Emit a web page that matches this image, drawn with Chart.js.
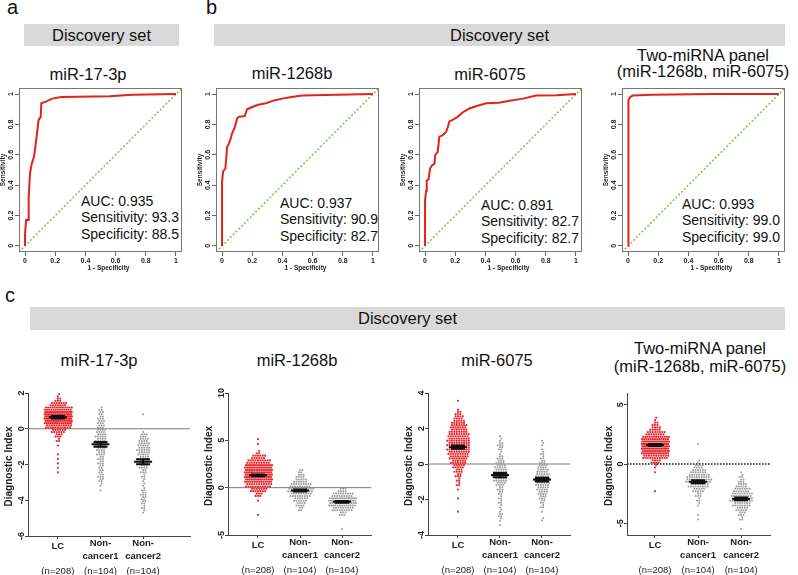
<!DOCTYPE html>
<html>
<head>
<meta charset="utf-8">
<script src="https://cdn.jsdelivr.net/npm/chart.js@4.4.0/dist/chart.umd.min.js"></script>
<style>
body { margin: 0; background: #fff; font-family: "Liberation Sans", Arial, sans-serif; color: #111; }
#fig { position: relative; width: 798px; height: 575px; overflow: hidden; }
.abs { position: absolute; white-space: nowrap; }
.lbl { font-size: 20px; line-height: 20px; }
.band { background: #d9d9d9; font-size: 16.5px; text-align: center; }
.ttl { font-size: 16.5px; line-height: 20px; transform: translateX(-50%); }
.auc { font-size: 14px; line-height: 16px; }
canvas { position: absolute; }
</style>
</head>
<body>
<div id="fig">
  <div class="abs lbl" style="left:7px;top:-3px">a</div>
  <div class="abs lbl" style="left:206px;top:-3px">b</div>
  <div class="abs lbl" style="left:5px;top:285px">c</div>

  <div class="abs band" style="left:24px;top:24px;width:155px;height:22px;line-height:22px">Discovery set</div>
  <div class="abs band" style="left:214px;top:24px;width:571px;height:22px;line-height:22px">Discovery set</div>
  <div class="abs band" style="left:30px;top:307px;width:755px;height:23px;line-height:23px">Discovery set</div>

  <div class="abs ttl" style="left:88px;top:64px">miR-17-3p</div>
  <div class="abs ttl" style="left:292px;top:63px">miR-1268b</div>
  <div class="abs ttl" style="left:490px;top:64px">miR-6075</div>
  <div class="abs ttl" style="left:703px;top:45px">Two-miRNA panel</div>
  <div class="abs ttl" style="left:703px;top:61px">(miR-1268b, miR-6075)</div>

  <div class="abs ttl" style="left:99px;top:350px">miR-17-3p</div>
  <div class="abs ttl" style="left:297px;top:350px">miR-1268b</div>
  <div class="abs ttl" style="left:497px;top:350px">miR-6075</div>
  <div class="abs ttl" style="left:700px;top:338px">Two-miRNA panel</div>
  <div class="abs ttl" style="left:700px;top:356px">(miR-1268b, miR-6075)</div>

  <div id="aucBox"></div>

  <canvas id="roc1" width="190" height="200" style="left:0px;top:80px"></canvas>
  <canvas id="roc2" width="190" height="200" style="left:197px;top:80px"></canvas>
  <canvas id="roc3" width="190" height="200" style="left:400px;top:80px"></canvas>
  <canvas id="roc4" width="190" height="200" style="left:603px;top:80px"></canvas>

  <canvas id="dot1" width="200" height="190" style="left:0px;top:385px"></canvas>
  <canvas id="dot2" width="200" height="190" style="left:200px;top:385px"></canvas>
  <canvas id="dot3" width="200" height="190" style="left:400px;top:385px"></canvas>
  <canvas id="dot4" width="200" height="190" style="left:600px;top:385px"></canvas>
</div>

<script>
var F = '"Liberation Sans", Arial, sans-serif';

var rocTicks = [0, 0.2, 0.4, 0.6, 0.8, 1];

var roc17Fpr = [0, 0, 0.007, 0.02, 0.024, 0.033, 0.044, 0.06, 0.068, 0.079, 0.09, 0.104, 0.108, 0.139, 0.18, 0.24, 0.56, 0.71, 1];
var roc17Tpr = [0, 0.08, 0.17, 0.17, 0.32, 0.48, 0.54, 0.59, 0.65, 0.74, 0.83, 0.85, 0.94, 0.95, 0.97, 0.98, 0.985, 0.995, 1];

var roc1268Fpr = [0, 0, 0.007, 0.022, 0.029, 0.033, 0.044, 0.055, 0.066, 0.084, 0.1, 0.11, 0.15, 0.166, 0.2, 0.24, 0.29, 0.35, 0.4, 0.46, 0.53, 1];
var roc1268Tpr = [0, 0.42, 0.49, 0.51, 0.59, 0.65, 0.67, 0.70, 0.74, 0.78, 0.84, 0.85, 0.855, 0.9, 0.915, 0.93, 0.94, 0.96, 0.97, 0.98, 0.99, 1];

var roc6075Fpr = [0, 0, 0.007, 0.011, 0.024, 0.033, 0.046, 0.062, 0.068, 0.084, 0.095, 0.117, 0.139, 0.15, 0.161, 0.183, 0.216, 0.25, 0.294, 0.338, 0.404, 0.49, 0.56, 0.65, 0.735, 0.87, 1];
var roc6075Tpr = [0, 0.30, 0.36, 0.43, 0.44, 0.51, 0.53, 0.54, 0.60, 0.62, 0.72, 0.73, 0.75, 0.78, 0.82, 0.83, 0.85, 0.88, 0.905, 0.92, 0.94, 0.943, 0.956, 0.97, 0.99, 0.993, 1];

var rocPanelFpr = [0, 0, 0.004, 0.004, 0.013, 0.03, 0.16, 0.57, 1];
var rocPanelTpr = [0, 0.28, 0.28, 0.96, 0.98, 0.99, 0.995, 1, 1];

var aucLines = [
  ['AUC: 0.935', 'Sensitivity: 93.3', 'Specificity: 88.5'],
  ['AUC: 0.937', 'Sensitivity: 90.9', 'Specificity: 82.7'],
  ['AUC: 0.891', 'Sensitivity: 82.7', 'Specificity: 82.7'],
  ['AUC: 0.993', 'Sensitivity: 99.0', 'Specificity: 99.0']
];

// ---- dot plots (panel c): counts per y-bin, per group ----
var groupNames = [['LC'], ['Non-', 'cancer1'], ['Non-', 'cancer2']];
var groupN = ['(n=208)', '(n=104)', '(n=104)'];

// miR-17-3p, bins of 0.25
var c17Start = [-2.5, -3.5, -4.75];
var c17LC = [1, 1, 1, 1, 1, 0, 1, 3, 6, 12, 22, 30, 40, 42, 26, 14, 5, 2];
var c17NC1 = [1, 2, 4, 5, 4, 4, 5, 5, 7, 8, 9, 9, 9, 8, 6, 6, 5, 4, 3];
var c17NC2 = [2, 3, 4, 4, 5, 3, 2, 2, 3, 5, 7, 8, 9, 10, 11, 10, 8, 6, 1, 0, 0, 0, 1];
var c17Mean = [0.65, -0.87, -1.84];
var c17Sem = [0.07, 0.13, 0.14];
var c17Ticks = [-6, -4, -2, 0, 2];

// miR-1268b, bins of 0.5
var c1268Start = [-3, -2.5, -4.5];
var c1268LC = [1, 0, 0, 1, 6, 14, 22, 30, 36, 33, 28, 20, 12, 3, 0, 1, 1];
var c1268NC1 = [4, 8, 12, 18, 22, 18, 11, 7, 4];
var c1268NC2 = [1, 0, 0, 6, 18, 26, 28, 18, 7];
var c1268Mean = [1.3, -0.3, -1.5];
var c1268Sem = [0.1, 0.11, 0.1];
var c1268Ticks = [-5, 0, 5, 10];

// miR-6075, bins of 0.25
var c6075Start = [-2.75, -3.5, -3.25];
var c6075LC = [1, 0, 0, 1, 0, 1, 3, 3, 5, 7, 10, 13, 16, 18, 19, 19, 19, 18, 15, 14, 11, 8, 5, 1, 0, 1];
var c6075NC1 = [1, 2, 4, 2, 2, 3, 3, 4, 5, 8, 11, 13, 11, 9, 7, 5, 2, 4, 5, 2, 1];
var c6075NC2 = [2, 0, 1, 3, 4, 6, 8, 10, 12, 13, 12, 10, 8, 5, 3, 3, 1, 2, 1];
var c6075Mean = [0.95, -0.62, -0.88];
var c6075Sem = [0.09, 0.12, 0.11];
var c6075Ticks = [-4, -2, 0, 2, 4];

// two-miRNA panel, bins of 0.4
var cPanStart = [-2.4, -4.8, -6.0];
var cPanLC = [1, 0, 0, 0, 1, 2, 8, 22, 34, 42, 40, 26, 16, 9, 5, 2];
var cPanNC1 = [1, 1, 0, 2, 3, 5, 10, 17, 22, 19, 13, 8, 2, 0, 0, 0, 1];
var cPanNC2 = [0, 1, 0, 3, 6, 10, 15, 19, 18, 14, 9, 5, 3, 1];
var cPanMean = [1.6, -1.5, -2.95];
var cPanSem = [0.08, 0.12, 0.12];
var cPanTicks = [-5, 0, 5];

// AUC text blocks (left, line centres)
var aucPos = [[81, 201], [280, 203], [481, 205], [682, 204]];
aucLines.forEach(function (lines, k) {
  lines.forEach(function (t, j) {
    var d = document.createElement('div');
    d.className = 'abs auc';
    d.style.left = aucPos[k][0] + 'px';
    d.style.top = (aucPos[k][1] - 8 + j * 16.3) + 'px';
    d.textContent = t;
    document.getElementById('aucBox').appendChild(d);
  });
});

// text drawn around the plot areas (rotated y labels etc.)
var extras = {
  id: 'extras',
  afterDraw: function (chart, args, o) {
    var ctx = chart.ctx, a = chart.chartArea, ys = chart.scales.y, xs = chart.scales.x;
    ctx.save();
    ctx.fillStyle = '#222';
    if (o.box) {
      ctx.strokeStyle = '#777';
      ctx.lineWidth = 1;
      ctx.strokeRect(a.left + 0.5, a.top + 0.5, a.right - a.left - 1, a.bottom - a.top - 1);
    }
    ctx.textAlign = 'center';
    ctx.textBaseline = 'middle';
    ctx.font = o.yFont;
    ys.ticks.forEach(function (t) {
      ctx.save();
      ctx.translate(a.left - o.yOff, ys.getPixelForValue(t.value));
      ctx.rotate(-Math.PI / 2);
      ctx.fillText(String(t.value), 0, 0);
      ctx.restore();
    });
    ctx.font = o.yTitleFont;
    ctx.save();
    ctx.translate(o.yTitleX, (a.top + a.bottom) / 2 + (o.yTitleDy || 0));
    ctx.rotate(-Math.PI / 2);
    ctx.fillText(o.yTitle, 0, 0);
    ctx.restore();
    if (o.xTitle) {
      ctx.font = o.xTitleFont;
      ctx.fillText(o.xTitle, (a.left + a.right) / 2 + 8, a.bottom + 16);
    }
    if (o.names) {
      o.names.forEach(function (lines, i) {
        var px = xs.getPixelForValue(i);
        ctx.font = 'bold 9.5px ' + F;
        if (lines.length === 1) {
          ctx.fillText(lines[0], px, a.bottom + 10);
        } else {
          ctx.fillText(lines[0], px, a.bottom + 7);
          ctx.fillText(lines[1], px, a.bottom + 20);
        }
        ctx.font = '9.5px ' + F;
        ctx.fillText(o.n[i], px, a.bottom + 35);
      });
    }
    ctx.restore();
  }
};

function rocChart(id, fpr, tpr) {
  var pts = fpr.map(function (x, i) { return { x: x, y: tpr[i] }; });
  new Chart(document.getElementById(id), {
    type: 'scatter',
    data: {
      datasets: [
        { data: pts, showLine: true, borderColor: '#e2231a', borderWidth: 2, pointRadius: 0, order: 0 },
        { data: [{ x: -0.04, y: -0.04 }, { x: 1.04, y: 1.04 }], showLine: true, borderColor: '#7dc242',
          borderWidth: 1.5, borderDash: [2, 2], pointRadius: 0, order: 1 }
      ]
    },
    options: {
      animation: false, responsive: false, devicePixelRatio: 1,
      layout: { padding: { left: 15, top: 8, right: 8, bottom: 0 } },
      plugins: {
        legend: { display: false }, tooltip: { enabled: false },
        extras: { box: true, yOff: 8, yFont: 'bold 7px ' + F, yTitle: 'Sensitivity', yTitleX: 3,
          yTitleFont: 'bold 6.5px ' + F, xTitle: '1 - Specificity', xTitleFont: 'bold 6.5px ' + F }
      },
      scales: {
        x: {
          type: 'linear', min: -0.04, max: 1.04,
          afterBuildTicks: function (s) { s.ticks = rocTicks.map(function (v) { return { value: v }; }); },
          afterFit: function (s) { s.height = 28; },
          grid: { drawOnChartArea: false, drawTicks: true, tickLength: 4, color: '#666' },
          border: { display: false },
          ticks: { font: { family: F, size: 7, weight: 'bold' }, color: '#222', padding: 1, maxRotation: 0,
            autoSkip: false, callback: function (v) { return String(v); } }
        },
        y: {
          type: 'linear', min: -0.04, max: 1.04,
          afterBuildTicks: function (s) { s.ticks = rocTicks.map(function (v) { return { value: v }; }); },
          afterFit: function (s) { s.width = 4; },
          grid: { drawOnChartArea: false, drawTicks: true, tickLength: 4, color: '#666' },
          border: { display: false },
          ticks: { display: false }
        }
      }
    },
    plugins: [extras]
  });
}

// lay the dots of each bin out side by side (two sub-rows per bin)
function swarm(counts, start, binW, group, pxPerX) {
  var pts = [];
  counts.forEach(function (n, b) {
    var yc = start + binW * (b + 0.5);
    for (var r = 0; r < 2; r++) {
      var m = Math.floor(n / 2) + (r < n % 2 ? 1 : 0);
      if (!m) continue;
      var gap = Math.min(2.4, 28 / m);
      var dy = (r - 0.5) * binW / 2;
      for (var k = 0; k < m; k++) {
        var dx = (k - (m - 1) / 2) * gap + (r ? gap / 2 : 0);
        pts.push({ x: group + dx / pxPerX, y: yc + dy });
      }
    }
  });
  return pts;
}

function dotChart(id, p) {
  var pxX = p.plotW / (p.xMax - p.xMin);
  var sets = [];
  var cols = ['#e8262d', '#9c9c9c', '#9c9c9c'];
  var rads = [1.1, 1.0, 1.0];
  p.groups.forEach(function (g, i) {
    sets.push({ data: swarm(g, p.start[i], p.binW, i, pxX), pointRadius: rads[i], pointBorderWidth: 0,
      pointBackgroundColor: cols[i], order: 1 });
  });
  var seg = [];
  p.means.forEach(function (m, i) {
    var s = p.sems[i], h = 9 / pxX, c = 7 / pxX;
    seg.push({ x: i - h, y: m }, { x: i + h, y: m }, { x: i, y: null },
      { x: i - c, y: m + s }, { x: i + c, y: m + s }, { x: i, y: null },
      { x: i - c, y: m - s }, { x: i + c, y: m - s }, { x: i, y: null },
      { x: i, y: m - s }, { x: i, y: m + s }, { x: i, y: null });
  });
  sets.push({ data: seg, showLine: true, spanGaps: false, borderColor: '#111', borderWidth: 2, pointRadius: 0, order: 0 });
  sets.push({ data: [{ x: p.xMin, y: 0 }, { x: p.xMax, y: 0 }], showLine: true, pointRadius: 0, order: 2,
    borderColor: p.dotted ? '#111' : '#7a7a7a', borderWidth: p.dotted ? 1.6 : 1, borderDash: p.dotted ? [1.5, 1.5] : [] });

  new Chart(document.getElementById(id), {
    type: 'scatter',
    data: { datasets: sets },
    options: {
      animation: false, responsive: false, devicePixelRatio: 1,
      layout: { padding: { left: p.padL, top: 8, right: p.padR, bottom: 0 } },
      plugins: {
        legend: { display: false }, tooltip: { enabled: false },
        extras: { yOff: 6, yFont: 'bold 9px ' + F, yTitle: 'Diagnostic Index', yTitleX: 9, yTitleDy: 2,
          yTitleFont: 'bold 10px ' + F, names: groupNames, n: groupN }
      },
      scales: {
        x: {
          type: 'linear', min: p.xMin, max: p.xMax,
          afterBuildTicks: function (s) { s.ticks = [0, 1, 2].map(function (v) { return { value: v }; }); },
          afterFit: function (s) { s.height = p.xH; },
          grid: { drawOnChartArea: false, drawTicks: true, tickLength: 3, color: '#444' },
          border: { display: true, color: '#444', width: 1 },
          ticks: { display: false }
        },
        y: {
          type: 'linear', min: p.yMin, max: p.yMax,
          afterBuildTicks: function (s) { s.ticks = p.ticks.map(function (v) { return { value: v }; }); },
          afterFit: function (s) { s.width = 4; },
          grid: { drawOnChartArea: false, drawTicks: true, tickLength: 3, color: '#444' },
          border: { display: true, color: '#444', width: 1 },
          ticks: { display: false }
        }
      }
    },
    plugins: [extras]
  });
}

rocChart('roc1', roc17Fpr, roc17Tpr);
rocChart('roc2', roc1268Fpr, roc1268Tpr);
rocChart('roc3', roc6075Fpr, roc6075Tpr);
rocChart('roc4', rocPanelFpr, rocPanelTpr);

dotChart('dot1', { groups: [c17LC, c17NC1, c17NC2], start: c17Start, binW: 0.25, means: c17Mean, sems: c17Sem,
  ticks: c17Ticks, yMin: -6, yMax: 2, xMin: -0.7, xMax: 3.1, plotW: 162, padL: 24, padR: 10, xH: 39 });
dotChart('dot2', { groups: [c1268LC, c1268NC1, c1268NC2], start: c1268Start, binW: 0.5, means: c1268Mean, sems: c1268Sem,
  ticks: c1268Ticks, yMin: -5, yMax: 10, xMin: -0.714, xMax: 2.69, plotW: 143, padL: 24, padR: 29, xH: 40 });
dotChart('dot3', { groups: [c6075LC, c6075NC1, c6075NC2], start: c6075Start, binW: 0.25, means: c6075Mean, sems: c6075Sem,
  ticks: c6075Ticks, yMin: -4, yMax: 4, xMin: -0.714, xMax: 2.667, plotW: 142, padL: 24, padR: 30, xH: 40 });
dotChart('dot4', { groups: [cPanLC, cPanNC1, cPanNC2], start: cPanStart, binW: 0.4, means: cPanMean, sems: cPanSem,
  ticks: cPanTicks, yMin: -6, yMax: 6, xMin: -0.65, xMax: 2.67, plotW: 143, padL: 23, padR: 30, xH: 40, dotted: true });
</script>
</body>
</html>
